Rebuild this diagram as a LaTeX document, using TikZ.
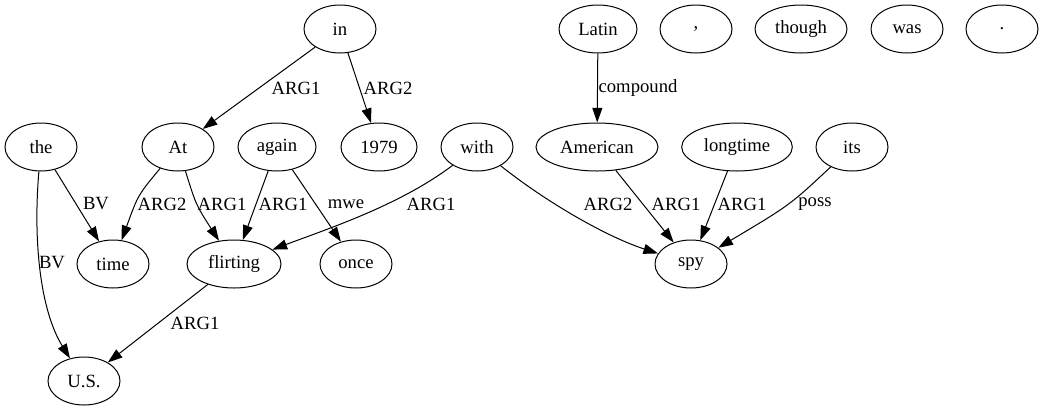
\documentclass[tikz,border=0pt]{standalone}
\usepackage{fontspec}
\setmainfont{Liberation Serif}
\usetikzlibrary{shapes.geometric,arrows.meta}
\begin{document}
\begin{tikzpicture}[x=0.75pt,y=-0.75pt,
  word/.style={draw,ellipse,line width=0.75pt,minimum height=36pt,inner sep=0pt,font=\fontsize{14}{16}\selectfont},
  lbl/.style={inner sep=1pt,font=\fontsize{14}{16}\selectfont},
  edge/.style={draw,line width=0.75pt,-{Triangle[length=11pt,width=7.5pt]}}]
\useasboundingbox (0,0) rectangle (1048,411);
% top row
\node[word,minimum width=54pt] (in) at (340,29) {in};
\node[word,minimum width=58.5pt] (latin) at (598,29) {Latin};
\node[word,minimum width=54pt] (comma) at (696,29) {,};
\node[word,minimum width=69pt] (though) at (801,29) {though};
\node[word,minimum width=54pt] (was) at (907,29) {was};
\node[word,minimum width=54pt] (period) at (1002,29) {.};
% middle row
\node[word,minimum width=54pt] (the) at (41,147) {the};
\node[word,minimum width=54pt] (at) at (178,147) {At};
\node[word,minimum width=58.5pt] (again) at (277,147) {again};
\node[word,minimum width=57pt] (y1979) at (379,147) {1979};
\node[word,minimum width=54pt] (with) at (477,147) {with};
\node[word,minimum width=91.5pt] (american) at (597,147) {American};
\node[word,minimum width=83pt] (longtime) at (737,147) {longtime};
\node[word,minimum width=54pt] (its) at (852,147) {its};
% lower rows
\node[word,minimum width=54pt] (time) at (113,264) {time};
\node[word,minimum width=70.5pt] (flirting) at (234,264) {flirting};
\node[word,minimum width=54pt] (once) at (356,264) {once};
\node[word,minimum width=54pt] (spy) at (691,264) {spy};
\node[word,minimum width=54pt] (us) at (84,381) {U.S.};
% edges
\path[edge] (in) -- (at);
\path[edge] (in) -- (y1979);
\path[edge] (latin) -- (american);
\path[edge] (the) -- (time);
\path[edge] (the) .. controls (33,240) and (40,310) .. (us);
\path[edge] (at) .. controls (138,195) .. (time);
\path[edge] (at) .. controls (196,205) .. (flirting);
\path[edge] (again) -- (flirting);
\path[edge] (again) -- (once);
\path[edge] (with) .. controls (400,205) and (330,228) .. (flirting);
\path[edge] (with) .. controls (550,205) and (610,238) .. (spy);
\path[edge] (american) -- (spy);
\path[edge] (longtime) -- (spy);
\path[edge] (its) .. controls (790,205) .. (spy);
\path[edge] (flirting) -- (us);
% labels
\node[lbl] (l1) at (296,88) {ARG1};
\node[lbl] (l2) at (388,88) {ARG2};
\node[lbl,anchor=west] (l3) at (597,88) {compound};
\node[lbl] (l4) at (96,204) {BV};
\node[lbl] (l5) at (52,263) {BV};
\node[lbl] (l6) at (162,204) {ARG2};
\node[lbl] (l7) at (222,204) {ARG1};
\node[lbl] (l8) at (283,204) {ARG1};
\node[lbl] (l9) at (346,204) {mwe};
\node[lbl] (l10) at (431,204) {ARG1};
\node[lbl] (l11) at (608,204) {ARG2};
\node[lbl] (l12) at (676,204) {ARG1};
\node[lbl] (l13) at (742,204) {ARG1};
\node[lbl] (l14) at (815,204) {poss};
\node[lbl] (l15) at (195,323) {ARG1};
\end{tikzpicture}
\end{document}
